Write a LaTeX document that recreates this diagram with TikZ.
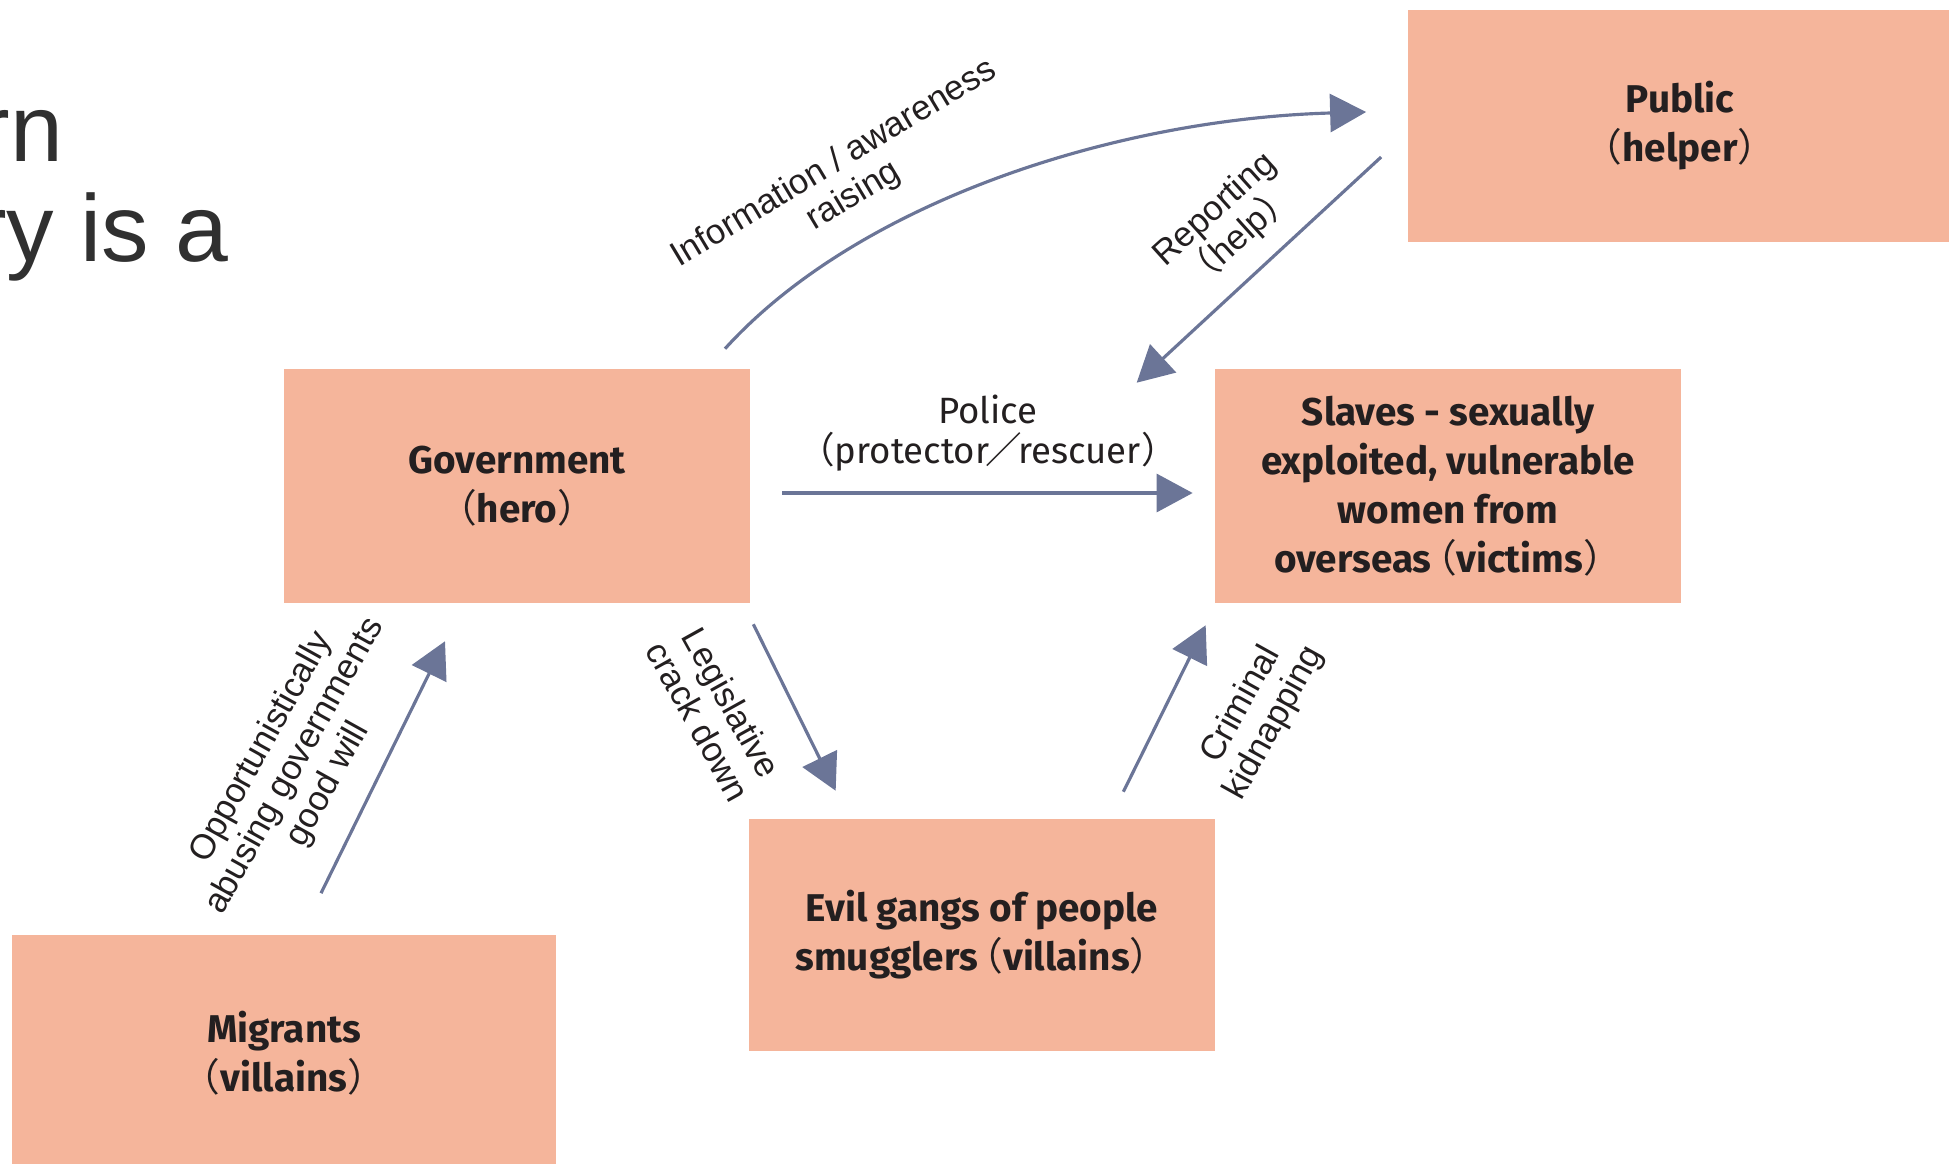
\documentclass[tikz,border=0pt]{standalone}
\usepackage{fontspec}
\setmainfont{Fira Sans}
\newfontfamily\arialish{Liberation Sans}
\newfontfamily\cjk{Noto Sans CJK SC}
\usetikzlibrary{arrows.meta}
\definecolor{boxfill}{HTML}{F5B59B}
\definecolor{flowcol}{HTML}{6B7597}
\definecolor{ink}{HTML}{231F20}
\definecolor{headgray}{HTML}{303030}
\newcommand\fwlp{{\cjk\mdseries （}}
\newcommand\fwrp{{\cjk\mdseries ）}}
\newcommand\fwsl{\kern-.1em{\cjk\mdseries ／}\kern-.1em}
\begin{document}
\begin{tikzpicture}[x=0.01cm,y=-0.01cm,
  actor/.style={fill=boxfill,text=ink,align=center,inner sep=0pt,
    font=\bfseries\fontsize{11}{13.9}\selectfont,
    minimum width=4.65cm,minimum height=2.33cm},
  tag/.style={text=ink,align=center,inner sep=0pt,
    font=\arialish\fontsize{9.9}{10.8}\selectfont},
  flow/.style={draw=flowcol,line width=0.9pt,
    -{Triangle[length=0.36cm,width=0.38cm]}}]
\useasboundingbox (0,0) rectangle (1949,1164);
\node[anchor=base east,inner sep=0pt,text=headgray,
  font=\arialish\fontsize{27}{32}\selectfont] (head1) at (64,162) {rn};
\node[anchor=base east,inner sep=0pt,text=headgray,
  font=\arialish\fontsize{27}{32}\selectfont] (head2) at (229,262) {ry is a};
\node[actor,minimum width=5.44cm,minimum height=2.31cm] (public) at (1680,126)
  {Public\\\fwlp helper\fwrp};
\node[actor] (gov) at (517,486) {Government\\\fwlp hero\fwrp};
\node[actor] (slaves) at (1448,486)
  {Slaves - sexually\\exploited, vulnerable\\women from\\overseas\kern-.35em\fwlp victims\fwrp};
\node[actor,minimum height=2.31cm] (gangs) at (982,935)
  {Evil gangs of people\\smugglers\kern-.35em\fwlp villains\fwrp};
\node[actor,minimum width=5.44cm,minimum height=2.36cm] (migrants) at (284,1053)
  {Migrants\\\fwlp villains\fwrp};
\draw[flow] ([shift={(208,-20)}]gov.north) .. controls (859,201) and (1117,119)
  .. ([shift={(-41,-14)}]public.west);
\draw[flow] ([shift={(-26,31)}]public.west) -- ([shift={(-78,14)}]slaves.north west);
\draw[flow] ([shift={(32,7)}]gov.east) -- ([shift={(-22,7)}]slaves.west);
\draw[flow] ([shift={(3,21)}]gov.south east) -- ([shift={(87,-28)}]gangs.north west);
\draw[flow] ([shift={(-92,-27)}]gangs.north east) -- ([shift={(-9,22)}]slaves.south west);
\draw[flow] ([shift={(37,-41)}]migrants.north) -- ([shift={(-72,38)}]gov.south);
\node[tag,rotate=31] (infotag) at (844,180) {Information / awareness\\raising};
\node[tag,rotate=42] (reporttag) at (1228,224) {Reporting\\\fwlp help\fwrp};
\node[text=ink,align=center,inner sep=0pt,font=\fontsize{10.4}{11.4}\selectfont]
  (policetag) at (988,433) {Police\\\fwlp protector\fwsl rescuer\fwrp};
\node[tag,rotate=-61] (lawtag) at (715,712) {Legislative\\crack down};
\node[tag,rotate=61] (crimetag) at (1258,714) {Criminal\\kidnapping};
\node[tag,rotate=61] (abusetag) at (295,766)
  {Opportunistically\\abusing governments\\good will};
\end{tikzpicture}
\end{document}
